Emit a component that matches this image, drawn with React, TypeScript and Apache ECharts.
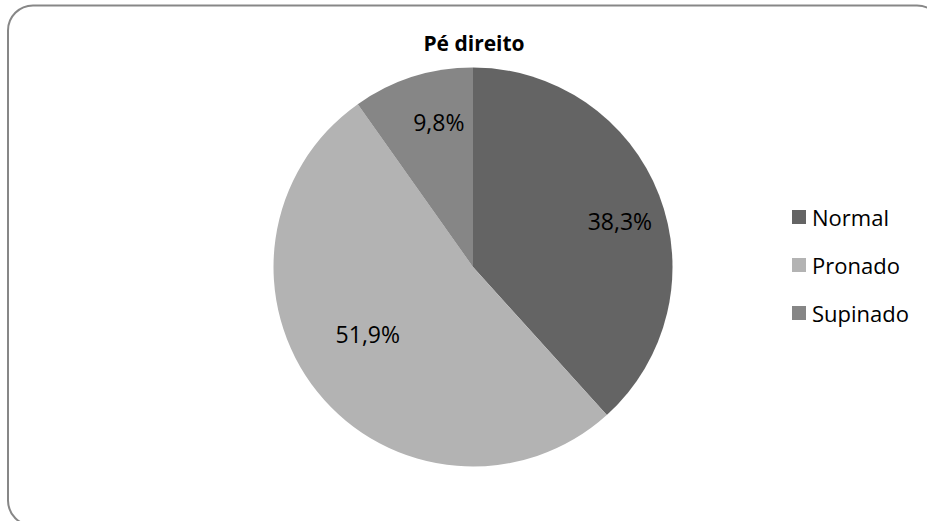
import React, { useEffect, useRef } from "react";
import * as echarts from "echarts";

const title = "Pé direito";
const categories = ["Normal", "Pronado", "Supinado"];
const values = [38.3, 51.9, 9.8];
const colors = ["#646464", "#b3b3b3", "#868686"];
const labelOffsets: [number, number][] = [[51, -9], [-25, 3], [-3, -47]];

export default function App() {
  const ref = useRef<HTMLDivElement>(null);
  useEffect(() => {
    if (!ref.current) return;
    const chart = echarts.init(ref.current, undefined, { renderer: "svg" });
    const font = "'Open Sans', 'Noto Sans', sans-serif";
    chart.setOption({
      animation: false,
      backgroundColor: "#ffffff",
      title: {
        text: title,
        left: 474,
        top: 32,
        padding: 0,
        textAlign: "center",
        textStyle: { fontFamily: font, fontSize: 21, fontWeight: "bold", color: "#000" },
      },
      legend: {
        orient: "vertical",
        left: 792,
        top: 205,
        padding: 0,
        itemWidth: 14,
        itemHeight: 14,
        itemGap: 24,
        icon: "rect",
        data: categories,
        textStyle: { fontFamily: font, fontSize: 22, color: "#000", lineHeight: 24, padding: [0, 0, 0, 1] },
      },
      graphic: [
        {
          type: "rect",
          shape: { x: 8, y: 5.5, width: 934, height: 520, r: 25 },
          style: { fill: "none", stroke: "#878787", lineWidth: 2 },
          silent: true,
        },
      ],
      series: [
        {
          type: "pie",
          center: [473, 267],
          radius: [0, 199.5],
          startAngle: 90,
          clockwise: true,
          label: {
            show: true,
            position: "inside",
            fontFamily: font,
            fontSize: 23,
            color: "#000",
            formatter: (p: any) => p.value.toFixed(1).replace(".", ",") + "%",
          },
          labelLine: { show: false },
          itemStyle: { borderWidth: 0 },
          emphasis: { disabled: true },
          data: categories.map((c, i) => ({
            name: c,
            value: values[i],
            itemStyle: { color: colors[i] },
            label: { offset: labelOffsets[i] },
          })),
        },
      ],
    });
    return () => chart.dispose();
  }, []);
  return (
    <div
      ref={ref}
      style={{ position: "absolute", left: 0, top: 0, width: 927, height: 521 }}
    />
  );
}
